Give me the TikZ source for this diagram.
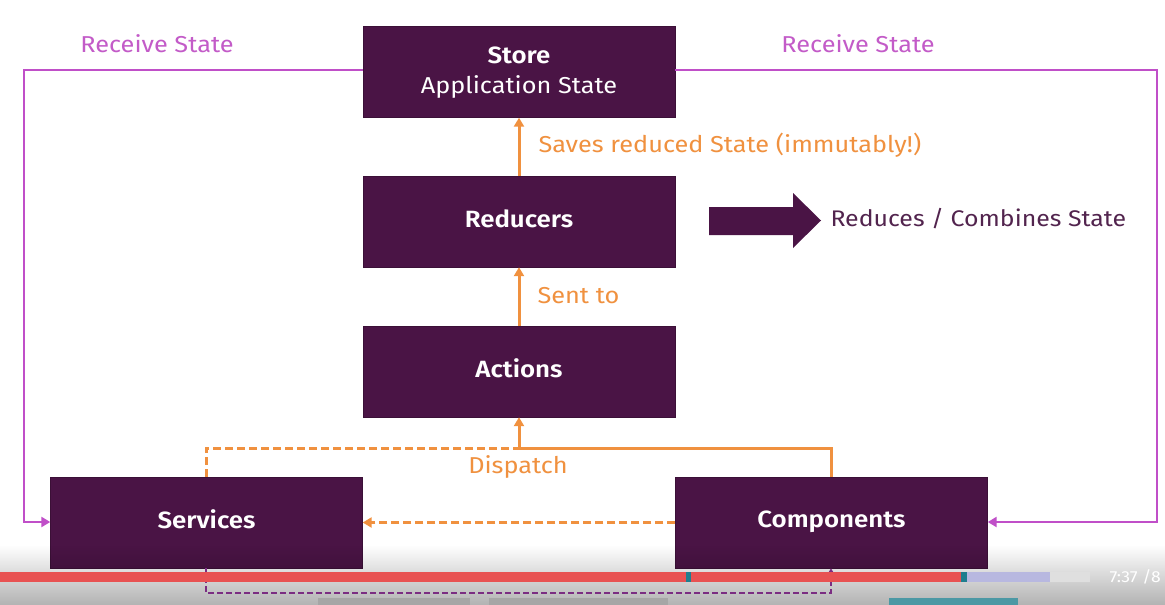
\documentclass[tikz,border=0pt]{standalone}
\usepackage{fontspec}
\setmainfont{Fira Sans}[FakeStretch=1.1]
\newfontfamily\boldf{Fira Sans SemiBold}[FakeStretch=1.1]
\usetikzlibrary{arrows.meta,fadings}
\definecolor{boxc}{HTML}{4A1445}
\definecolor{orng}{HTML}{F0913F}
\definecolor{pinkc}{HTML}{C04FC8}
\definecolor{pinkt}{HTML}{C35BC8}
\definecolor{dpurp}{HTML}{7B2D82}
\definecolor{redbar}{HTML}{E85252}
\definecolor{tealc}{HTML}{1F7E8E}
\newcommand\lowstrut{\rule[-6.5pt]{0pt}{21pt}}
\tikzset{
  box/.style={fill=boxc, draw=boxc!80!black, minimum width=312pt, minimum height=91pt, inner sep=0pt, text=white, font=\boldf\fontsize{23.5}{30}\selectfont, align=center},
  olink/.style={draw=orng, line width=3pt, -{Triangle[length=9pt,width=10pt]}},
  odash/.style={draw=orng, line width=3pt, dash pattern=on 8pt off 4pt},
  plink/.style={draw=pinkc, line width=2.8pt, -{Triangle[length=9pt,width=10pt]}},
  ddash/.style={draw=dpurp, line width=2.8pt, dash pattern=on 6pt off 3pt},
  olabel/.style={text=orng, font=\fontsize{23}{28}\selectfont},
  plabel/.style={text=pinkt, font=\fontsize{23}{28}\selectfont},
}
\begin{document}
\begin{tikzpicture}[x=1pt,y=-1pt]
\useasboundingbox[fill=white] (0,0) rectangle (1165,605);
% boxes
\node[box] (store) at (519,72) {\strut Store\\{\fontspec{Fira Sans}[FakeStretch=1.1]\fontsize{23}{30}\selectfont\strut Application State}};
\node[box] (red) at (519,221.5) {\lowstrut Reducers};
\node[box] (act) at (519,371.5) {\lowstrut Actions};
\node[box] (serv) at (206.5,522.5) {\lowstrut Services};
\node[box] (comp) at (831.5,522.5) {\lowstrut Components};
% coordinates
\coordinate (ltop) at (24,70);
\coordinate (lbot) at (24,522);
\coordinate (rtop) at (1157,70);
\coordinate (rbot) at (1157,522);
\coordinate (cup) at (831,448);
\coordinate (mid) at (519,448);
\coordinate (sup) at (206,448);
\coordinate (sdn) at (206,593);
\coordinate (cdn) at (831,593);
% receive state
\draw[plink] (store.west |- ltop) -- (ltop) -- (lbot) -- (serv.west |- lbot);
\draw[plink] (store.east |- rtop) -- (rtop) -- (rbot) -- (comp.east |- rbot);
\node[plabel] (rs1) at (157,44) {Receive State};
\node[plabel] (rs2) at (858,44) {Receive State};
% vertical orange
\draw[olink] (red.north) -- (store.south);
\node[olabel, anchor=west] (sav) at (535,145) {Saves reduced State (immutably!)};
\draw[olink] (act.north) -- (red.south);
\node[olabel, anchor=west] (sent) at (534,296) {Sent to};
% dispatch
\draw[odash] (serv.north -| sup) -- (sup) -- (mid);
\draw[olink] (comp.north -| cup) -- (cup) -- (mid) -- (act.south);
\node[olabel] (disp) at (518,467) {Dispatch};
\draw[odash, -{Triangle[length=9pt,width=10pt]}] (comp.west) -- (serv.east);
% big arrow
\fill[boxc] (709,207) -- (793,207) -- (793,193) -- (821,220.5) -- (793,248) -- (793,235) -- (709,235) -- cycle;
\node[anchor=west, text=boxc!85!gray, font=\fontsize{22.6}{28}\selectfont] (rcs) at (827,219) {Reduces / Combines State};
% video overlay
\fill[black, opacity=0.3, path fading=north] (0,545) rectangle (1165,605);
\draw[ddash] (serv.south -| sdn) -- (sdn) -- (cdn) -- (comp.south -| cdn);
\draw[dpurp, line width=2.8pt, -{Triangle[length=8pt,width=9pt]}] (831,580) -- (comp.south -| cdn);
\fill[redbar] (0,572) rectangle (963,582);
\fill[tealc] (686,572) rectangle (691,582);
\fill[tealc] (961,572) rectangle (967,582);
\fill[gray!60!blue!40] (967,572) rectangle (1050,582);
\fill[gray!25] (1050,572) rectangle (1090,582);
\node[text=white, anchor=west, font=\fontsize{16}{18}\selectfont] (time) at (1106,577) {7:37 /8};
\fill[gray!70] (318,598) rectangle (470,605);
\fill[gray!70] (489,598) rectangle (668,605);
\fill[tealc!80] (889,598) rectangle (1018,605);
\end{tikzpicture}
\end{document}
